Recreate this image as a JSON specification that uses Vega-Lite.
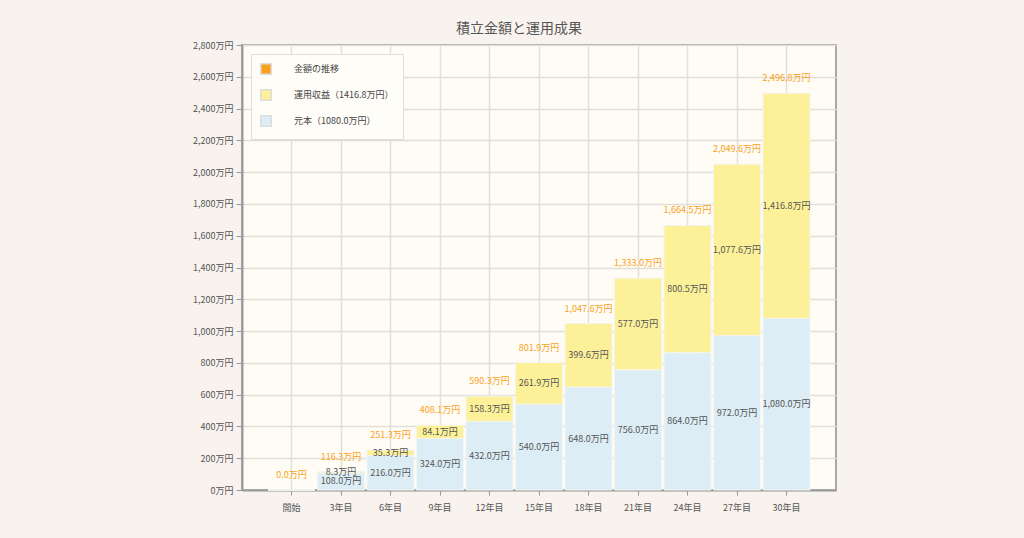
{
  "$schema": "https://vega.github.io/schema/vega-lite/v6.json",
  "width": 594,
  "height": 445,
  "autosize": {"type": "none"},
  "padding": {"left": 242, "top": 45, "right": 188, "bottom": 48},
  "background": "#f8f3ef",
  "title": {
    "text": "積立金額と運用成果",
    "fontSize": 14,
    "font": "Noto Sans CJK JP",
    "fontWeight": "normal",
    "color": "#555555",
    "anchor": "middle",
    "frame": "group",
    "dx": -20,
    "offset": 5
  },
  "config": {
    "font": "Noto Sans CJK JP",
    "view": {"fill": "#fffcf5", "stroke": "#a8a8a8", "strokeWidth": 2},
    "axisY": {
      "title": null,
      "values": [0, 200, 400, 600, 800, 1000, 1200, 1400, 1600, 1800, 2000, 2200, 2400, 2600, 2800],
      "labelExpr": "format(datum.value, ',') + '万円'",
      "labelOverlap": false,
      "labelFontSize": 9,
      "labelColor": "#555555",
      "labelPadding": 3,
      "domainColor": "#999999",
      "domainWidth": 2,
      "tickColor": "#999999",
      "tickSize": 6,
      "grid": true,
      "gridColor": "#e2ded8",
      "gridWidth": 1.5,
      "zindex": 0
    }
  },
  "datasets": {
    "bars": [
      {"year": "開始", "series": "元本（1080.0万円）", "value": 0, "label": "0.0万円"},
      {"year": "開始", "series": "運用収益（1416.8万円）", "value": 0, "label": "0.0万円"},
      {"year": "3年目", "series": "元本（1080.0万円）", "value": 108.0, "label": "108.0万円"},
      {"year": "3年目", "series": "運用収益（1416.8万円）", "value": 8.3, "label": "8.3万円"},
      {"year": "6年目", "series": "元本（1080.0万円）", "value": 216.0, "label": "216.0万円"},
      {"year": "6年目", "series": "運用収益（1416.8万円）", "value": 35.3, "label": "35.3万円"},
      {"year": "9年目", "series": "元本（1080.0万円）", "value": 324.0, "label": "324.0万円"},
      {"year": "9年目", "series": "運用収益（1416.8万円）", "value": 84.1, "label": "84.1万円"},
      {"year": "12年目", "series": "元本（1080.0万円）", "value": 432.0, "label": "432.0万円"},
      {"year": "12年目", "series": "運用収益（1416.8万円）", "value": 158.3, "label": "158.3万円"},
      {"year": "15年目", "series": "元本（1080.0万円）", "value": 540.0, "label": "540.0万円"},
      {"year": "15年目", "series": "運用収益（1416.8万円）", "value": 261.9, "label": "261.9万円"},
      {"year": "18年目", "series": "元本（1080.0万円）", "value": 648.0, "label": "648.0万円"},
      {"year": "18年目", "series": "運用収益（1416.8万円）", "value": 399.6, "label": "399.6万円"},
      {"year": "21年目", "series": "元本（1080.0万円）", "value": 756.0, "label": "756.0万円"},
      {"year": "21年目", "series": "運用収益（1416.8万円）", "value": 577.0, "label": "577.0万円"},
      {"year": "24年目", "series": "元本（1080.0万円）", "value": 864.0, "label": "864.0万円"},
      {"year": "24年目", "series": "運用収益（1416.8万円）", "value": 800.5, "label": "800.5万円"},
      {"year": "27年目", "series": "元本（1080.0万円）", "value": 972.0, "label": "972.0万円"},
      {"year": "27年目", "series": "運用収益（1416.8万円）", "value": 1077.6, "label": "1,077.6万円"},
      {"year": "30年目", "series": "元本（1080.0万円）", "value": 1080.0, "label": "1,080.0万円"},
      {"year": "30年目", "series": "運用収益（1416.8万円）", "value": 1416.8, "label": "1,416.8万円"}
    ],
    "totals": [
      {"year": "開始", "total": 0.0, "label": "0.0万円"},
      {"year": "3年目", "total": 116.3, "label": "116.3万円"},
      {"year": "6年目", "total": 251.3, "label": "251.3万円"},
      {"year": "9年目", "total": 408.1, "label": "408.1万円"},
      {"year": "12年目", "total": 590.3, "label": "590.3万円"},
      {"year": "15年目", "total": 801.9, "label": "801.9万円"},
      {"year": "18年目", "total": 1047.6, "label": "1,047.6万円"},
      {"year": "21年目", "total": 1333.0, "label": "1,333.0万円"},
      {"year": "24年目", "total": 1664.5, "label": "1,664.5万円"},
      {"year": "27年目", "total": 2049.6, "label": "2,049.6万円"},
      {"year": "30年目", "total": 2496.8, "label": "2,496.8万円"}
    ]
  },
  "encoding": {
    "x": {
      "field": "year",
      "type": "nominal",
      "sort": null,
      "scale": {
        "domain": ["開始", "3年目", "6年目", "9年目", "12年目", "15年目", "18年目", "21年目", "24年目", "27年目", "30年目"],
        "paddingInner": 0.05,
        "paddingOuter": 0.525
      },
      "axis": {
        "title": null,
        "labelAngle": 0,
        "labelFontSize": 9,
        "labelColor": "#555555",
        "labelPadding": 8,
        "domainColor": "#999999",
        "domainWidth": 2,
        "tickColor": "#999999",
        "tickSize": 5,
        "grid": true,
        "gridColor": "#e2ded8",
        "gridWidth": 1.5,
        "zindex": 0
      }
    }
  },
  "layer": [
    {
      "data": {"name": "bars"},
      "mark": {"type": "bar", "stroke": "#f4f4f0", "strokeWidth": 1},
      "encoding": {
        "y": {
          "field": "value",
          "type": "quantitative",
          "stack": "zero",
          "scale": {"domain": [0, 2800], "nice": false}
        },
        "color": {
          "field": "series",
          "type": "nominal",
          "scale": {
            "domain": ["金額の推移", "運用収益（1416.8万円）", "元本（1080.0万円）"],
            "range": ["#f9a11b", "#fcf199", "#dcedf5"]
          },
          "legend": {
            "title": null,
            "orient": "top-left",
            "offset": 9,
            "symbolType": "square",
            "symbolSize": 110,
            "symbolStrokeColor": "#dddddd",
            "symbolStrokeWidth": 1.5,
            "labelFontSize": 9,
            "labelColor": "#444444",
            "labelOffset": 22,
            "rowPadding": 8,
            "padding": 9,
            "fillColor": "#fffdf8",
            "strokeColor": "#dddddd"
          }
        },
        "order": {"field": "series", "sort": "ascending"}
      }
    },
    {
      "data": {"name": "bars"},
      "transform": [{"filter": "datum.value > 0"}],
      "mark": {"type": "text", "fontSize": 9, "color": "#555555", "baseline": "middle"},
      "encoding": {
        "y": {"field": "value", "type": "quantitative", "stack": "zero", "bandPosition": 0.5},
        "detail": {"field": "series"},
        "order": {"field": "series", "sort": "ascending"},
        "text": {"field": "label"}
      }
    },
    {
      "data": {"name": "totals"},
      "mark": {"type": "text", "fontSize": 9, "color": "#f9a11b", "baseline": "middle", "dy": -15},
      "encoding": {
        "y": {"field": "total", "type": "quantitative"},
        "text": {"field": "label"}
      }
    }
  ]
}
